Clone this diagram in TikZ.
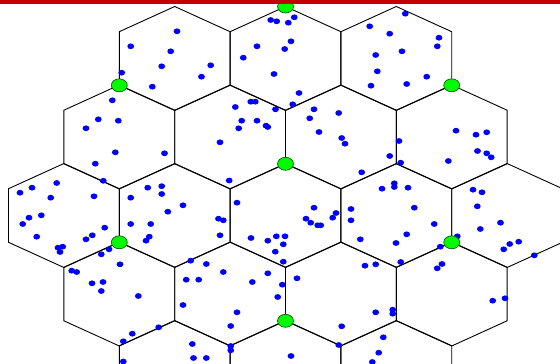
\documentclass[tikz,border=0pt]{standalone}
\usetikzlibrary{shapes.geometric}
\definecolor{barred}{RGB}{192,0,0}
\definecolor{dotblue}{RGB}{0,0,255}
\definecolor{bsgreen}{RGB}{0,250,0}
\tikzset{
  cellline/.style={draw=black, line width=0.9pt, line join=miter},
  userdot/.style={fill=dotblue},
  bs/.style={ellipse, draw=black!70!green, line width=0.6pt, fill=bsgreen,
    minimum width=16pt, minimum height=13pt, inner sep=0pt},
}
\begin{document}
\begin{tikzpicture}[x=1pt,y=-1pt]
\useasboundingbox (0,0) rectangle (560,364);
\clip (0,0) rectangle (560,364);
\fill[white] (0,0) rectangle (560,364);
% hexagonal cells
\foreach \cx/\cy in {174.7/58.5,285.5/58.5,396.3/58.5,
  119.3/137,230.1/137,340.9/137,451.7/137,
  63.9/215.5,174.7/215.5,285.5/215.5,396.3/215.5,507.1/215.5,
  119.3/294,230.1/294,340.9/294,451.7/294,
  174.7/372.5,285.5/372.5,396.3/372.5}{
  \draw[cellline] (\cx,\cy-52) -- (\cx+55.4,\cy-26.8) -- (\cx+55.4,\cy+26.8)
    -- (\cx,\cy+52) -- (\cx-55.4,\cy+26.8) -- (\cx-55.4,\cy-26.8) -- cycle;
}
% users
\foreach \px/\py in {
 177/31.3,130.7/46.3,170.7/51.3,161.7/66.3,210.7/65.3,201.5/76.7,121.7/72.7,152.3/86.7,
 112.3/100.3,98.3/119.3,118.3/120.7,86/128.3,115.3/152.3,164.5/153.3,95.3/163.7,257/46.3,
 243.3/57.7,274/74,270.7/20,276.7/21.3,235.3/107,250.8/101.7,255.3/101.7,275.5/109.3,
 241.7/120.7,257/120.7,238.7/128.3,266/125.7,267.8/127,220/142.3,229.2/180.5,103.3/180.8,
 56.7/183,
 294.3/17.3,288.3/22.7,291/41.3,284.7/49,405.3/13.7,369.7/26.3,389.7/33.7,439/37.7,
 437.3/46.3,402/51.3,375.7/55,377.3/71.3,426.7/76.7,371/85.7,406.7/84,299/93,292.7/104.3,
 314/109.3,309.7/118.3,338.7/113,319/132,341.7/138,345/143.7,399/141,389.7/156,400.7/162.7,
 361.7/172.3,456/130.7,476/134.7,486.7/132.3,477.5/151,486.7/153.3,491.2/157.3,448.3/161,
 20/192.7,32/187.7,50.7/197.7,94/196.3,29/217.7,41.3/215.3,22.7/224,36.7/236.7,104.7/227.7,
 92.3/235.3,86/239.3,58/247.7,62.7/246.7,60/252,130.7/197.7,130.7/224,147.7/187.7,
 161.7/186.2,161.7/194,183/205.3,167.8/211.7,150.7/224,149.3/236.7,146/240.7,218.5/218.7,
 223.3/220.3,220/235.3,237/202.7,109/249.3,101.3/254.3,120/264.3,71.7/270.7,76.7/272,
 92/283.3,103/282,101.3/291,138.3/296,132.3/333.7,123.3/341.3,158.7/327.3,190.7/260.7,
 206.3/264,186.2/279.7,198.7/279.7,223.3/272,183/305,237/312.3,230.7/326,192.3/344,
 193.5/358,206.3/358,230.7/346,230.7/350.3,251/238,267.8/240.7,276.3/236.3,275.3/251.7,
 252.3/282,267.8/273.3,277.7/297,123.3/361.5,
 382/188.7,394.3/183.3,394.3/187,408/187.7,414.3/207.7,314/207.7,351/209,336/213,
 332.7/217.7,351/220.3,306/218.7,310.7/222.7,317.7/225.3,320.7/225.3,285/236.3,283.3/244.3,
 360.3/239.3,396/243,406.7/234.3,283.3/261.7,365/265.7,375.7/264.3,400.7/262,297/278.3,
 282.3/284.7,375.7/312.3,392.7/309.7,392.7/313.7,341.7/326.3,338.7/345,383.3/337.3,
 378.7/352.7,291/356,372.3/362,473/189.7,482/192.3,477.3/206.3,500.5/222.7,480.3/229,
 434.2/224,457.3/236.3,440.3/246.7,509.7/244,518.7/241.7,503.7/249.3,534.3/255.3,442/264,
 437.2/268.3,492.7/300.7,505/298.3}{
  \fill[userdot] (\px,\py) ellipse [x radius=3.4pt, y radius=2.9pt];
}
% base stations
\node[bs] (bs1) at (285.5,6.5) {};
\node[bs] (bs2) at (119.3,85.3) {};
\node[bs] (bs3) at (451.7,85.3) {};
\node[bs] (bs4) at (285.5,163.8) {};
\node[bs] (bs5) at (119.3,242.3) {};
\node[bs] (bs6) at (451.7,242.3) {};
\node[bs] (bs7) at (285.5,320.8) {};
% top bar
\fill[barred] (0,0) rectangle (560,4.3);
\end{tikzpicture}
\end{document}
